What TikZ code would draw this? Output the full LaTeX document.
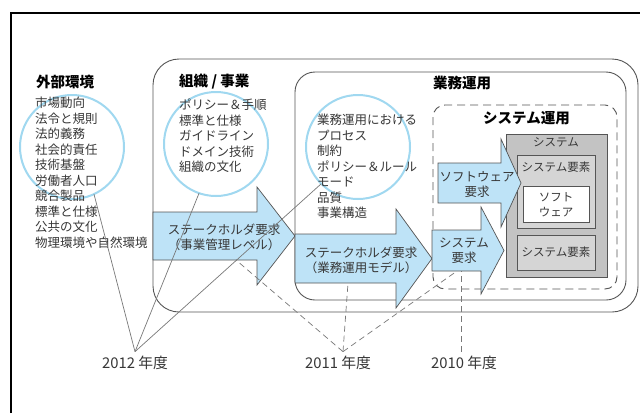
\documentclass[tikz,border=0pt]{standalone}
\usepackage{fontspec}
\setmainfont{Noto Sans CJK JP}
\usetikzlibrary{calc}
\definecolor{arrowfill}{RGB}{190,227,247}
\definecolor{circ}{RGB}{160,216,240}
\definecolor{edge}{RGB}{85,85,85}
\definecolor{txt}{RGB}{55,55,55}
\definecolor{grayA}{RGB}{195,195,195}
\definecolor{grayB}{RGB}{213,213,213}
\definecolor{conn}{RGB}{120,120,120}
\tikzset{
 boxline/.style={draw=edge, line width=0.9pt},
 dashbox/.style={draw=edge, line width=0.9pt, dash pattern=on 8pt off 5pt},
 bigarrow/.style={draw=edge, fill=arrowfill, line width=0.7pt},
 ring/.style={circle, draw=circ, line width=2pt, minimum size=104pt, inner sep=0pt, outer sep=0pt},
 lst/.style={anchor=north west, align=left, inner sep=0pt, text=txt, font=\fontsize{12.5}{15.55}\selectfont},
 head/.style={anchor=west, inner sep=0pt, font=\bfseries\fontsize{14.5}{16}\selectfont},
 atext/.style={align=center, inner sep=0pt, text=txt, font=\fontsize{12.5}{15.2}\selectfont},
 stext/.style={align=center, inner sep=0pt, text=txt, font=\fontsize{11.5}{15}\selectfont},
 sysbox/.style={draw=edge, line width=0.8pt},
 yr/.style={text=txt, font=\fontsize{14.8}{16}\selectfont, inner sep=2pt, outer sep=2.5pt},
 solidcon/.style={draw=conn, line width=0.7pt},
 dashcon/.style={draw=conn, line width=0.7pt, dash pattern=on 6pt off 4pt},
}
\begin{document}
\begin{tikzpicture}[x=1pt,y=-1pt]
\useasboundingbox (0,0) rectangle (640,413);
\fill[white] (0,0) rectangle (640,413);
% outer frame
\draw[line width=2pt, black] (11,413) -- (11,13) -- (640,13);

% rounded containers
\draw[boxline, rounded corners=26pt] (153,59) rectangle (638,312);
\draw[boxline, rounded corners=20pt] (295,72) rectangle (626,300);
\draw[dashbox, rounded corners=12pt] (433,105) rectangle (617,289);

% circles
\node[ring] (c1) at (72,147) {};
\node[ring] (c2) at (216,144) {};
\node[ring] (c3) at (358,147) {};

% headings
\node[head] (h1) at (36,82) {外部環境};
\node[head] (h2) at (179,82) {組織 / 事業};
\node[head] (h3) at (433,83) {業務運用};
\node[head] (h4) at (483,118) {システム運用};

% lists
\node[lst] (l1) at (35,96.8) {市場動向\\法令と規則\\法的義務\\社会的責任\\技術基盤\\労働者人口\\競合製品\\標準と仕様\\公共の文化\\物理環境や自然環境};
\node[lst] (l2) at (179,98.8) {ポリシー＆手順\\標準と仕様\\ガイドライン\\ドメイン技術\\組織の文化};
\node[lst] (l3) at (317,113.8) {業務運用における\\プロセス\\制約\\ポリシー＆ルール\\モード\\品質\\事業構造};

% system boxes
\draw[sysbox, fill=grayA] (506,134) rectangle (607,277);
\node[stext] (sys) at (556,142) {システム};
\draw[sysbox, fill=grayB] (517,155) rectangle (595,228);
\node[stext] (se1) at (556,167) {システム要素};
\draw[sysbox, fill=white] (523,186) rectangle (589,222);
\node[stext] (sw) at (556,204.5) {ソフト\\ウェア};
\draw[sysbox, fill=grayB] (517,235) rectangle (595,270);
\node[stext] (se2) at (556,252.5) {システム要素};

% block arrows
\draw[bigarrow] (153,212) -- (257,212) -- (257,187) -- (295,236) -- (257,285) -- (257,260) -- (153,260) -- cycle;
\node[atext] (a1) at (224,237.5) {ステークホルダ要求\\（事業管理レベル）};
\draw[bigarrow] (295,234) -- (396,234) -- (396,209) -- (432,258.5) -- (396,308) -- (396,283) -- (295,283) -- cycle;
\node[atext] (a2) at (361,260.5) {ステークホルダ要求\\（業務運用モデル）};
\draw[bigarrow] (432,230) -- (481,230) -- (481,207) -- (504,250.5) -- (481,294) -- (481,271) -- (432,271) -- cycle;
\node[atext] (a3) at (464,251) {システム\\要求};
\draw[bigarrow] (438,163) -- (501,163) -- (501,139) -- (521,183) -- (501,227) -- (501,203) -- (438,203) -- cycle;
\node[atext] (a4) at (477,184.5) {ソフトウェア\\要求};

% connector end points on arrows
\coordinate (t1) at (236,260);
\coordinate (t2) at (348,283);
\coordinate (t3) at (457,271);
\coordinate (t4) at (461,271);

% year labels
\node[yr] (y2012) at (135,363) {2012 年度};
\node[yr] (y2011) at (338,363) {2011 年度};
\node[yr] (y2010) at (464,363) {2010 年度};

% connectors
\draw[solidcon] (y2012.north) -- (c1.-65);
\draw[solidcon] (y2012.north) -- (c2.-109);
\draw[solidcon] (y2012.north) -- (c3.-135);
\draw[dashcon] ($(y2011.north)+(5,0)$) -- (t1);
\draw[dashcon] ($(y2011.north)+(5,0)$) -- (t2);
\draw[dashcon] ($(y2011.north)+(5,0)$) -- (t3);
\draw[dashcon] (y2010.north -| t4) -- (t4);
\end{tikzpicture}
\end{document}
